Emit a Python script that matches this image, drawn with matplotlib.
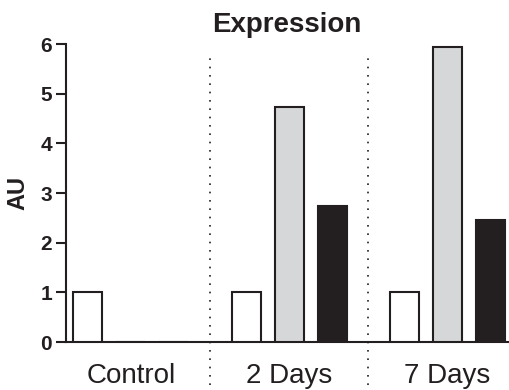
import matplotlib
matplotlib.use("Agg")
import matplotlib.pyplot as plt
import numpy as np

plt.rcParams['font.family'] = ['Liberation Sans', 'DejaVu Sans']

groups = ["Control", "2 Days", "7 Days"]
white_vals = [1.0, 1.0, 1.0]
gray_vals = [0.0, 4.74, 5.95]
black_vals = [0.0, 2.73, 2.46]
y_ticks = [0, 1, 2, 3, 4, 5, 6]

fig = plt.figure(figsize=(5.1, 3.9), dpi=100)
ax = fig.add_axes([0.1294, 0.123, 0.8666, 0.764])

x = np.arange(len(groups))
pitch = 0.2716
width = 0.183
lw = 1.5
ink = "#231f20"
ax.bar(x - pitch, white_vals, width, color="white", edgecolor=ink, linewidth=lw, zorder=3)
ax.bar(x, gray_vals, width, color="#d6d7d9", edgecolor=ink, linewidth=lw, zorder=3)
ax.bar(x + pitch, black_vals, width, color=ink, edgecolor=ink, linewidth=lw, zorder=3)

# dotted separators between groups
for xs in (0.5, 1.5):
    ax.plot([xs, xs], [-0.144, 0.963], transform=ax.get_xaxis_transform(),
            color=ink, linestyle=(0, (1, 4)), linewidth=1.2, clip_on=False, zorder=2)

ax.set_xlim(-0.41, 2.382)
ax.set_ylim(0, 6)
ax.set_yticks(y_ticks)
ax.set_yticklabels([str(t) for t in y_ticks], fontsize=15, fontweight="bold", color=ink)
ax.set_xticks(x)
ax.set_xticklabels(groups, fontsize=20, color=ink)
ax.tick_params(axis="x", length=0, pad=15)
ax.tick_params(axis="y", length=7, width=lw, direction="out", pad=3, color=ink)

for s in ("top", "right"):
    ax.spines[s].set_visible(False)
for s in ("left", "bottom"):
    ax.spines[s].set_linewidth(lw)
    ax.spines[s].set_color(ink)

ax.set_ylabel("AU", fontsize=17, fontweight="bold", labelpad=8, color=ink)
ax.set_title("Expression", fontsize=20, fontweight="bold", pad=9, color=ink)

fig.savefig("out.png", dpi=100)
